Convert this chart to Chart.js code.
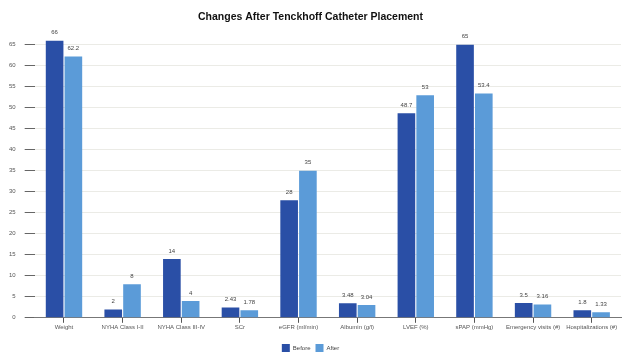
<!DOCTYPE html>
<html>
<head>
<meta charset="utf-8">
<script src="https://cdn.jsdelivr.net/npm/chart.js@4/dist/chart.umd.min.js"></script>
<style>
html,body{margin:0;padding:0;background:#fff;}
#wrap{width:627px;height:355px;}
</style>
</head>
<body>
<div id="wrap"><canvas id="c" width="627" height="355"></canvas></div>
<script>
const categories = ["Weight","NYHA Class I-II","NYHA Class III-IV","SCr","eGFR (ml/min)","Albumin (g/l)","LVEF (%)","sPAP (mmHg)","Emergency visits (#)","Hospitalizations (#)"];
const beforeValues = [66, 2, 14, 2.43, 28, 3.48, 48.7, 65, 3.5, 1.8];
const afterValues = [62.2, 8, 4, 1.78, 35, 3.04, 53, 53.4, 3.16, 1.33];
const seriesNames = ["Before","After"];
const yTicks = [0,5,10,15,20,25,30,35,40,45,50,55,60,65];

const barLabels = {
  id:'barLabels',
  afterDatasetsDraw(chart){
    const ctx = chart.ctx;
    ctx.save();
    ctx.font = '6px "Liberation Sans", Arial, sans-serif';
    ctx.fillStyle = '#444';
    ctx.textAlign = 'center';
    ctx.textBaseline = 'bottom';
    chart.data.datasets.forEach((ds,i)=>{
      const meta = chart.getDatasetMeta(i);
      meta.data.forEach((el,j)=>{
        ctx.fillText(String(ds.data[j]), el.x, el.y - 5);
      });
    });
    ctx.restore();
  }
};

new Chart(document.getElementById('c'), {
  type:'bar',
  data:{
    labels:categories,
    datasets:[
      {label:seriesNames[0], data:beforeValues, backgroundColor:'#2a4fa6', borderWidth:0},
      {label:seriesNames[1], data:afterValues, backgroundColor:'#5b9bd8', borderWidth:0}
    ]
  },
  options:{
    responsive:false,
    animation:false,
    layout:{padding:{left:0,right:6,top:0,bottom:-7}},
    categoryPercentage:0.64,
    barPercentage:0.94,
    plugins:{
      title:{display:true,text:'Changes After Tenckhoff Catheter Placement',color:'#111',
        font:{family:'"Liberation Sans", Arial, sans-serif',size:10.5,weight:'bold'},padding:{top:11,bottom:17}},
      legend:{position:'bottom',labels:{boxWidth:8,boxHeight:8,padding:5,color:'#444',
        font:{family:'"Liberation Sans", Arial, sans-serif',size:6}}},
      tooltip:{enabled:false}
    },
    scales:{
      x:{
        afterFit(scale){ scale.height += 7; },
        grid:{display:true,offset:false,drawOnChartArea:false,tickLength:5,tickColor:'#555',lineWidth:1},
        border:{color:'#777',width:1},
        ticks:{color:'#555',font:{family:'"Liberation Sans", Arial, sans-serif',size:6},maxRotation:0,autoSkip:false,padding:1}
      },
      y:{
        min:0,max:66,
        afterBuildTicks(axis){ axis.ticks = yTicks.map(v=>({value:v})); },
        grid:{color:'#ebebe6',tickColor:'#666',tickLength:10,lineWidth:1},
        border:{display:false},
        ticks:{color:'#555',font:{family:'"Liberation Sans", Arial, sans-serif',size:6},padding:9}
      }
    }
  },
  plugins:[barLabels]
});
</script>
</body>
</html>
